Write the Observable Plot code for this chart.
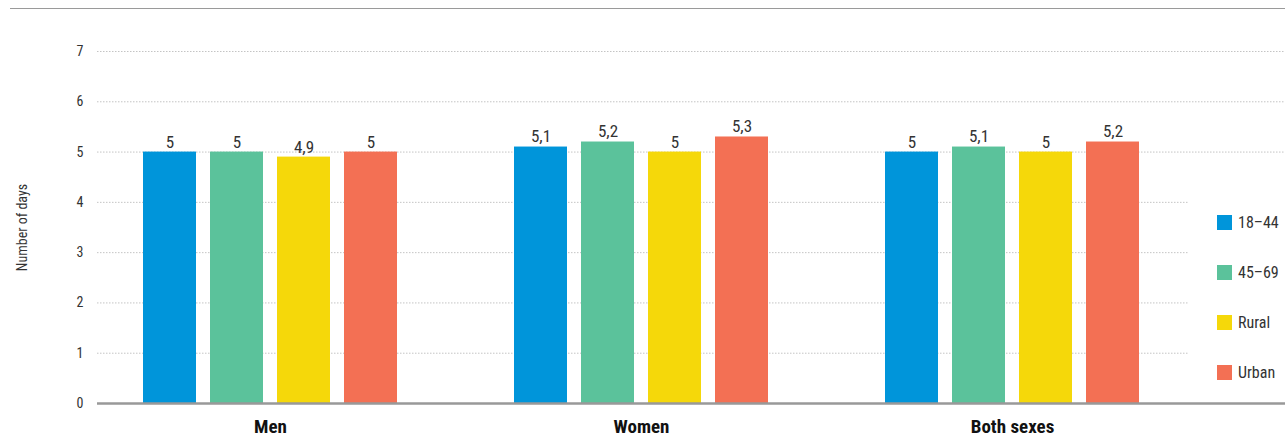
<!DOCTYPE html>
<html>
<head>
<meta charset="utf-8">
<script src="https://cdn.jsdelivr.net/npm/d3@7"></script>
<script src="https://cdn.jsdelivr.net/npm/@observablehq/plot@0.6"></script>
<style>
  html, body { margin: 0; padding: 0; background: #fff; }
  #wrap { position: relative; width: 1285px; height: 441px; overflow: hidden; background: #fff;
    font-family: "Roboto Condensed", "Liberation Sans Narrow", "DejaVu Sans Condensed", sans-serif; }
  #wrap svg { position: absolute; left: 0; top: 0; }
  #topline { position: absolute; left: 10px; right: 0; top: 8px; height: 1px; background: #9a9a9a; }
  #legend { position: absolute; left: 1188px; top: 197px; width: 97px; background: #fff; }
  .item { display: flex; align-items: center; height: 50px; padding-left: 29px; font-size: 16px; color: #333; white-space: nowrap; }
  .sw { width: 15px; height: 15px; margin-right: 6px; flex: none; }
</style>
</head>
<body>
<div id="wrap"></div>
<script>
const groups = ["Men", "Women", "Both sexes"];
const series = ["18–44", "45–69", "Rural", "Urban"];
const colors = ["#0095da", "#5bc29b", "#f5d80a", "#f37054"];
const menValues = [5, 5, 4.9, 5];
const womenValues = [5.1, 5.2, 5, 5.3];
const bothValues = [5, 5.1, 5, 5.2];
const yTicks = [0, 1, 2, 3, 4, 5, 6, 7];

const valuesByGroup = [menValues, womenValues, bothValues];
const data = groups.flatMap((g, gi) => series.map((s, si) => ({group: g, series: s, value: valuesByGroup[gi][si]})));
const fmt = v => String(v).replace(".", ",");
const font = '"Roboto Condensed", "Liberation Sans Narrow", "DejaVu Sans Condensed", sans-serif';

const common = {
  width: 1285,
  height: 441,
  marginLeft: 97,
  marginRight: 0,
  marginTop: 51,
  marginBottom: 38,
  y: {domain: [0, 7], axis: null},
  style: {fontFamily: font, background: "transparent", color: "#333", overflow: "visible"}
};

// Layer 1: dotted gridlines across the whole frame
const gridLayer = Plot.plot({
  ...common,
  marks: [
    Plot.ruleY(yTicks.filter(d => d > 0), {stroke: "#c4c4c4", strokeWidth: 1, strokeDasharray: "1.5,1.5"})
  ]
});

// Layer 2: grouped bars
const barLayer = Plot.plot({
  ...common,
  fx: {domain: groups, paddingInner: 0.3154, paddingOuter: 0.2587, align: 0.24},
  x: {domain: series, paddingInner: 0.21, paddingOuter: 0, axis: null},
  color: {domain: series, range: colors},
  marks: [
    Plot.barY(data, {fx: "group", x: "series", y: "value", fill: "series"}),
    Plot.text(data, {fx: "group", x: "series", y: "value", text: d => fmt(d.value), dy: -10, fontSize: 17, fill: "#333"}),
    Plot.axisFx({anchor: "bottom", tickSize: 0, tickPadding: 16, fontSize: 19, fontWeight: "bold", fill: "#111", label: null})
  ]
});

// Layer 3: baseline and y axis
const axisLayer = Plot.plot({
  ...common,
  y: {domain: [0, 7]},
  marks: [
    Plot.ruleY([0], {stroke: "#999", strokeWidth: 2.5}),
    Plot.axisY({ticks: yTicks, tickFormat: d => String(d), tickSize: 0, tickPadding: 14, fontSize: 14, label: "Number of days", labelAnchor: "center", labelArrow: "none", labelOffset: 80})
  ]
});

const wrap = document.getElementById("wrap");
wrap.appendChild(gridLayer);
wrap.appendChild(barLayer);
wrap.appendChild(axisLayer);
const topLine = document.createElement("div");
topLine.id = "topline";
wrap.appendChild(topLine);

const legendBox = document.createElement("div");
legendBox.id = "legend";
series.forEach((s, i) => {
  const item = document.createElement("div");
  item.className = "item";
  const sw = document.createElement("span");
  sw.className = "sw";
  sw.style.background = colors[i];
  const lab = document.createElement("span");
  lab.textContent = s;
  item.appendChild(sw);
  item.appendChild(lab);
  legendBox.appendChild(item);
});
wrap.appendChild(legendBox);
</script>
</body>
</html>
